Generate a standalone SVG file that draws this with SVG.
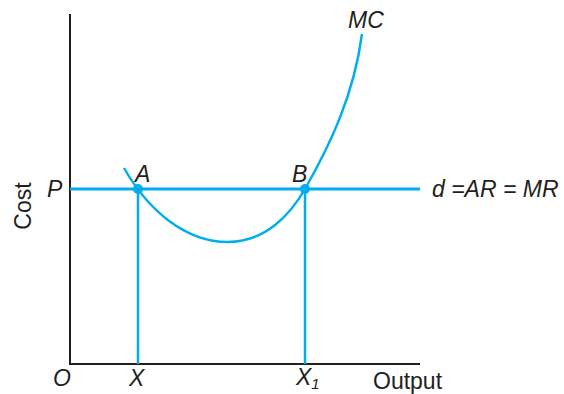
<svg xmlns="http://www.w3.org/2000/svg" width="564" height="394" viewBox="0 0 564 394">
<style>
.ax{stroke:#231f20;stroke-width:2;fill:none}
.bl{stroke:#00aeef;fill:none}
.t{font-family:"Liberation Sans",Arial,sans-serif;font-size:23px;fill:#231f20}
.i{font-style:italic}
</style>
<rect width="564" height="394" fill="#fff"/>
<g id="axes">
<path class="ax" d="M70,14 V364 H420"/>
</g>
<g id="connectors">
<path class="bl" stroke-width="3" d="M70,189 H420"/>
<path class="bl" stroke-width="2.5" d="M138,189 V364 M305,189 V364"/>
<path class="bl" stroke-width="2.5" d="M124,168 C148,210 185,242 228,242 C265,242 290,215 305,189 C330,145 354,95 362,34"/>
</g>
<g id="pointA"><circle cx="138" cy="189" r="5" fill="#00aeef"/><text class="t i" x="135" y="182">A</text></g>
<g id="pointB"><circle cx="305" cy="189" r="5" fill="#00aeef"/><text class="t i" x="292" y="182">B</text></g>
<g id="labels">
<text class="t i" x="348" y="28">MC</text>
<text class="t i" x="47" y="197">P</text>
<text class="t i" x="432" y="197">d =AR = MR</text>
<text class="t" transform="translate(31,206) rotate(-90)" text-anchor="middle">Cost</text>
<text class="t i" x="53" y="386">O</text>
<text class="t i" x="129" y="386">X</text>
<text class="t i" x="296" y="385">X<tspan font-size="15" dy="4">1</tspan></text>
<text class="t" x="373" y="389">Output</text>
</g>
</svg>
